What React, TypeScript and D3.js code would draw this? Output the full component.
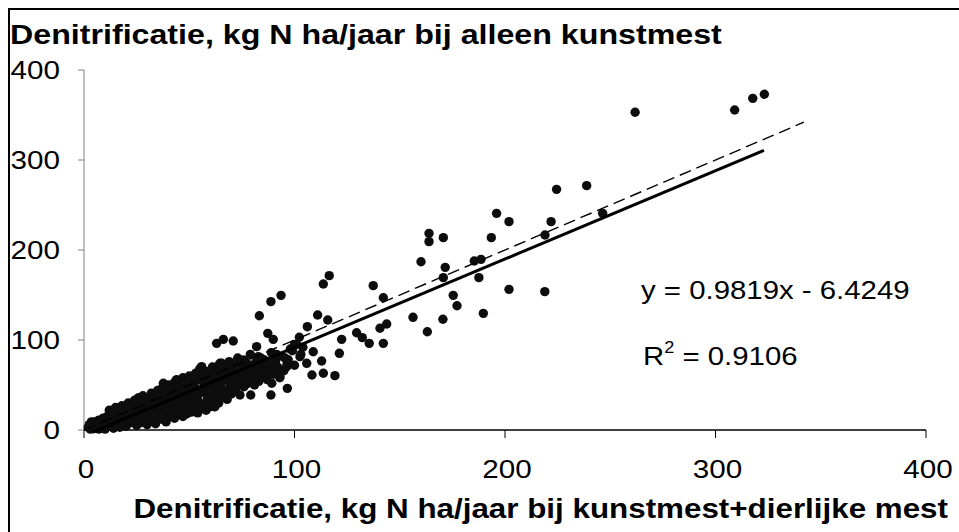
import React from 'react';
import * as d3 from 'd3';

const W = 959;
const H = 532;

// regression line from the chart: y = 0.9819x - 6.4249
const slope = 0.9819;
const intercept = -6.4249;
const trendRange = [4, 323];
const oneToOneRange = [0, 342];

const xTicks = [0, 100, 200, 300, 400];
const yTicks = [0, 100, 200, 300, 400];

// dense cluster near the origin
const clusterPoints: [number, number][] = [
  [2, 3], [3, 1], [4, 6], [5, 2], [5, 9], [6, 4], [7, 11], [7, 1], [8, 6], [9, 3], [9, 13], [10, 8], [10, 1],
  [11, 15], [11, 4], [12, 10], [12, 22], [13, 6], [14, 17], [14, 2], [15, 12], [15, 25], [16, 7], [17, 19],
  [17, 3], [18, 14], [18, 27], [19, 9], [20, 22], [20, 4],
  [21, 15], [21, 30], [22, 8], [23, 26], [23, 18], [24, 11], [24, 33], [25, 5], [25, 22], [26, 14], [26, 36],
  [27, 28], [27, 8], [28, 19], [28, 38], [29, 12], [29, 31], [30, 24], [30, 6],
  [31, 35], [31, 16], [32, 41], [32, 10], [33, 27], [33, 20], [34, 38], [34, 7], [35, 44], [35, 14], [36, 30],
  [36, 22], [37, 46], [37, 12], [38, 34], [38, 18], [39, 40], [39, 9], [40, 26], [40, 50],
  [41, 15], [41, 36], [42, 44], [42, 21], [43, 53], [43, 13], [44, 31], [44, 56], [45, 18], [45, 40], [46, 26],
  [46, 48], [47, 15], [47, 58], [48, 35], [48, 22], [49, 45], [49, 18], [50, 30], [50, 60],
  [51, 52], [51, 20], [52, 38], [52, 25], [53, 63], [53, 46], [54, 19], [54, 33], [55, 56], [55, 68], [56, 24],
  [56, 42], [57, 50], [57, 29], [58, 65], [58, 22], [59, 37], [59, 58], [60, 45], [60, 26],
  [61, 70], [61, 33], [62, 52], [62, 26], [63, 40], [63, 62], [64, 30], [64, 72], [65, 48], [65, 36], [66, 58],
  [67, 68], [67, 42], [68, 34], [68, 55], [69, 76], [69, 46], [70, 62], [70, 40], [71, 50], [71, 72], [72, 58],
  [72, 44], [73, 80], [74, 64], [74, 52], [75, 70], [76, 56], [76, 48], [77, 75], [78, 62], [78, 52], [79, 84],
  [80, 58], [80, 70], [81, 50], [82, 66], [83, 54], [84, 80], [85, 60], [86, 72], [87, 56], [88, 66], [89, 86],
  [90, 62], [91, 76], [92, 70], [93, 58], [94, 82], [95, 66], [97, 78], [98, 90], [99, 88], [100, 72],
  [100, 95], [101, 95], [103, 84], [104, 92],
  // second pass to close the gaps inside the cluster
  [2.5, 6], [3.5, 9], [4.5, 4], [6.5, 8], [8.5, 10], [9.5, 5], [11.5, 12], [12.5, 17], [13.5, 9], [15.5, 19],
  [16.5, 14], [17.5, 23], [18.5, 6], [19.5, 17],
  [21.5, 25], [22.5, 12], [23.5, 21], [24.5, 28], [25.5, 16], [26.5, 30], [27.5, 22], [28.5, 14], [29.5, 35],
  [30.5, 28], [31.5, 20], [32.5, 33], [33.5, 14], [34.5, 25], [35.5, 38], [36.5, 17], [37.5, 28], [38.5, 43],
  [39.5, 22], [40.5, 33],
  [41.5, 45], [42.5, 28], [43.5, 38], [44.5, 24], [45.5, 50], [46.5, 33], [47.5, 42], [48.5, 28], [49.5, 52],
  [50.5, 38], [51.5, 45], [52.5, 31], [53.5, 55], [54.5, 40], [55.5, 28], [56.5, 60], [57.5, 45], [58.5, 34],
  [59.5, 52], [60.5, 62],
  [61.5, 40], [62.5, 58], [63.5, 48], [64.5, 66], [65.5, 54], [66.5, 44], [67.5, 62], [68.5, 70], [69.5, 52],
  [70.5, 68], [71.5, 58], [72.5, 75], [73.5, 60], [74.5, 58], [75.5, 62], [76.5, 66], [77.5, 58], [78.5, 72],
  [79.5, 64], [81.5, 75], [82.5, 60], [83.5, 70], [85.5, 78], [86.5, 64], [88.5, 75], [90.5, 70], [91.5, 84],
  [93.5, 66], [95.5, 80], [96.5, 74],
];

// scattered points below ~150
const midPoints: [number, number][] = [
  [116.5, 171.5], [113.7, 162.2], [93.6, 149.6], [88.8, 142.6], [83.3, 127.0], [111.0, 127.8], [115.8, 122.2],
  [137.4, 160.4], [106.1, 114.8], [87.3, 107.4], [89.9, 100.7], [102.3, 103.0], [63.0, 96.3], [66.2, 100.7],
  [70.9, 98.9], [129.5, 108.1], [132.2, 102.6], [122.4, 100.7], [135.5, 96.3], [121.3, 85.2], [112.9, 76.7],
  [113.7, 63], [119.2, 60.4], [108.3, 61.1], [102.6, 81.5], [108.9, 87], [105.8, 74.1], [96.6, 46.3],
  [88.8, 38.9], [74.1, 38.9], [79.2, 38.9], [93.1, 59.3], [89.2, 51.9], [96.3, 70.4], [82.0, 92.6],
  [82.8, 81.5], [75.7, 77.8], [64.6, 74.1], [62.2, 25.9], [56.7, 25.9], [37.7, 51.9], [44, 50], [55.9, 70.4],
  [65.4, 74.1], [51.9, 20.4],
];

// upper scattered points
const highPoints: [number, number][] = [
  [224.5, 267.4], [238.8, 271.5], [196.0, 240.7], [201.9, 231.5], [221.9, 231.5], [163.9, 218.5],
  [163.9, 209.3], [170.7, 213.7], [193.5, 213.7], [219.0, 216.7], [246.4, 240.7], [160.1, 187.0],
  [171.6, 180.7], [185.4, 187.8], [188.6, 189.6], [170.7, 169.3], [187.6, 169.3], [142.2, 147.0],
  [175.4, 149.6], [177.2, 138.1], [201.9, 156.3], [218.9, 153.7], [143.8, 117.8], [140.6, 113.0],
  [156.3, 125.2], [170.5, 123.0], [163.1, 109.2], [189.7, 129.6], [142.2, 96.3],
  [261.8, 353], [309.1, 355.6], [317.7, 368.5], [323.2, 373],
];

const allPoints = [...clusterPoints, ...midPoints, ...highPoints];

// text in the original is a little wider than the font renders, so stretch it horizontally
const Label = ({ x, y, sx, anchor = 'start', size, bold = false, children }: any) => (
  <text transform={`translate(${x},${y}) scale(${sx},1)`} textAnchor={anchor} fontSize={size}
    fontWeight={bold ? 'bold' : 'normal'}>{children}</text>
);

export default function App() {
  const x = d3.scaleLinear().domain([0, 400]).range([84, 926]);
  const y = d3.scaleLinear().domain([0, 400]).range([430, 70]);

  const line = d3.line<number>()
    .x(d => x(d))
    .y(d => y(slope * d + intercept));
  const diag = d3.line<number>()
    .x(d => x(d))
    .y(d => y(d));

  const font = '"Liberation Sans", Arial, sans-serif';

  return (
    <svg width={W} height={H} style={{ position: 'absolute', left: 0, top: 0, background: '#fff' }}
      fontFamily={font}>
      {/* outer frame (only top and left edges fall inside the page) */}
      <line x1={8} y1={9} x2={W} y2={9} stroke="#000" strokeWidth={2} />
      <line x1={9} y1={8} x2={9} y2={H} stroke="#000" strokeWidth={2} />

      <Label x={10} y={44} sx={1.15} size={28} bold>Denitrificatie, kg N ha/jaar bij alleen kunstmest</Label>

      {/* y axis */}
      <line x1={84} y1={y(400)} x2={84} y2={y(0)} stroke="#808080" strokeWidth={1} />
      {yTicks.map(t => (
        <g key={'y' + t}>
          <line x1={78} x2={84} y1={y(t)} y2={y(t)} stroke="#808080" />
          <Label x={60} y={y(t) + 9} sx={1.14} size={26} anchor="end">{t}</Label>
        </g>
      ))}

      {/* x axis */}
      <line x1={84} y1={y(0)} x2={x(400)} y2={y(0)} stroke="#000" strokeWidth={1.5} />
      {xTicks.map(t => (
        <g key={'x' + t}>
          <line x1={x(t)} x2={x(t)} y1={y(0)} y2={y(0) + 8} stroke="#000" />
          <Label x={x(t) + 2} y={478} sx={1.14} size={26} anchor="middle">{t}</Label>
        </g>
      ))}

      {allPoints.map((p, i) => (
        <circle key={i} cx={x(p[0])} cy={y(p[1])} r={4.7} fill="#0d0d0d" />
      ))}

      <path d={diag(oneToOneRange) ?? ''} fill="none" stroke="#000" strokeWidth={1.4} strokeDasharray="12,6" />
      <path d={line(trendRange) ?? ''} fill="none" stroke="#000" strokeWidth={3} />

      <Label x={641} y={299} sx={1.13} size={26}>y = 0.9819x - 6.4249</Label>
      <Label x={643} y={365} sx={1.13} size={26}>R<tspan dy={-12} fontSize={16}>2</tspan><tspan dy={12}> = 0.9106</tspan></Label>

      <Label x={948} y={518} sx={1.12} size={28} anchor="end" bold>Denitrificatie, kg N ha/jaar bij kunstmest+dierlijke mest</Label>
    </svg>
  );
}
